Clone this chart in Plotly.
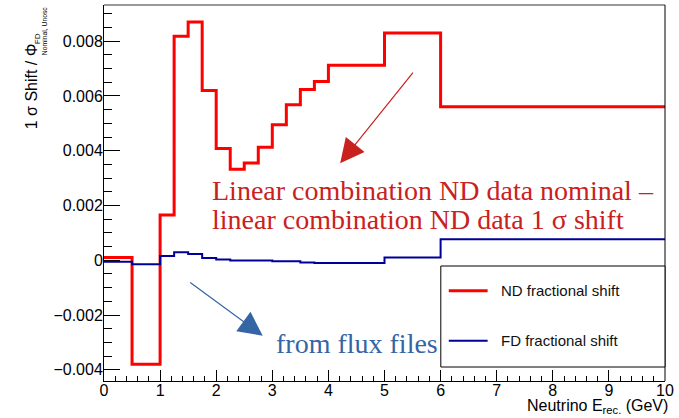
import plotly.graph_objects as go

# Reconstructed neutrino energy bin edges (GeV)
bin_edges = [0, 0.5, 1, 1.25, 1.5, 1.75, 2, 2.25, 2.5, 2.75, 3, 3.25, 3.5, 3.75, 4, 5, 6, 10]

# Fractional 1-sigma shifts per bin
nd_shift = [0.0001, -0.0038, 0.00165, 0.00818, 0.0087, 0.0062, 0.00408, 0.00332,
            0.00355, 0.00413, 0.00495, 0.00568, 0.00623, 0.00653, 0.00712, 0.0083, 0.0056]
fd_shift = [-0.00006, -0.00015, 0.00015, 0.00029, 0.00023, 0.00008, 0.00003, -0.00001,
            -0.00001, -0.00001, -0.00004, -0.00004, -0.00008, -0.0001, -0.0001, 0.0001, 0.00077]

series_names = ["ND fractional shift", "FD fractional shift"]
series_colors = ["#ff0000", "#000099"]
series_widths = [3, 2]

x_tick_vals = [0, 1, 2, 3, 4, 5, 6, 7, 8, 9, 10]
x_tick_text = ["0", "1", "2", "3", "4", "5", "6", "7", "8", "9", "10"]
y_tick_vals = [-0.004, -0.002, 0, 0.002, 0.004, 0.006, 0.008]
y_tick_text = ["\u22120.004", "\u22120.002", "0", "0.002", "0.004", "0.006", "0.008"]

# Canvas geometry (px)
W, H = 679, 418
ML, MR, MT, MB = 104, 12, 5, 37
PW, PH = W - ML - MR, H - MT - MB


def px(x):
    return (x - ML) / PW


def py(y):
    return (H - MB - y) / PH


fig = go.Figure()

for vals, name, color, width in zip([nd_shift, fd_shift], series_names, series_colors, series_widths):
    fig.add_trace(go.Scatter(
        x=bin_edges,
        y=list(vals) + [vals[-1]],
        mode="lines",
        line=dict(shape="hv", color=color, width=width),
        name=name,
        showlegend=False,
        hoverinfo="skip",
    ))

sans = "Liberation Sans, Arial, sans-serif"
serif = "Liberation Serif, Times New Roman, serif"

fig.update_layout(
    width=W, height=H,
    margin=dict(l=ML, r=MR, t=MT, b=MB, pad=0),
    paper_bgcolor="white", plot_bgcolor="white",
    font=dict(family=sans, size=16, color="black"),
    xaxis=dict(
        range=[0, 10], showgrid=False, zeroline=False,
        showline=True, linecolor="black", linewidth=1,
        tickmode="array", tickvals=x_tick_vals, ticktext=x_tick_text,
        ticks="inside", ticklen=11, tickwidth=1, tickcolor="black",
        ticklabelstandoff=-5,
        tickfont=dict(family=sans, size=16),
        minor=dict(dtick=0.2, tick0=0, ticks="inside", ticklen=5.5, tickcolor="black", tickwidth=1),
    ),
    yaxis=dict(
        range=[-0.00441, 0.00932], showgrid=False, zeroline=False,
        showline=True, linecolor="black", linewidth=1,
        tickmode="array", tickvals=y_tick_vals, ticktext=y_tick_text,
        ticks="inside", ticklen=16, tickwidth=1, tickcolor="black",
        ticklabelstandoff=-3,
        tickfont=dict(family=sans, size=16),
        minor=dict(dtick=0.0005, tick0=0, ticks="inside", ticklen=8, tickcolor="black", tickwidth=1),
    ),
)

shapes = [
    # top and right edges of the frame
    dict(type="line", xref="paper", yref="paper", x0=0, x1=1, y0=1, y1=1,
         line=dict(color="#777777", width=1.5)),
    dict(type="line", xref="paper", yref="paper", x0=1, x1=1, y0=0, y1=1,
         line=dict(color="black", width=1)),
    # legend box
    dict(type="rect", xref="paper", yref="paper", x0=px(442), x1=1, y0=py(367), y1=py(266),
         line=dict(color="black", width=1), fillcolor="white", layer="above"),
]
legend_rows = [290.7, 340.7]
for yrow, color, width in zip(legend_rows, series_colors, series_widths):
    shapes.append(dict(type="line", xref="paper", yref="paper",
                       x0=px(450), x1=px(489), y0=py(yrow), y1=py(yrow),
                       line=dict(color=color, width=width), layer="above"))
fig.update_layout(shapes=shapes)

annotations = []
for yrow, name in zip(legend_rows, series_names):
    annotations.append(dict(xref="paper", yref="paper", x=px(500), y=py(yrow),
                            xanchor="left", yanchor="middle", showarrow=False,
                            text=name, font=dict(family=sans, size=15, color="#111111")))

# axis titles
annotations.append(dict(xref="paper", yref="paper", x=px(672), y=py(407), xanchor="right", yanchor="middle",
                        showarrow=False, text="Neutrino E<sub>rec.</sub> (GeV)",
                        font=dict(family=sans, size=16)))
annotations.append(dict(xref="paper", yref="paper", x=px(31), y=py(131), xanchor="center", yanchor="bottom",
                        showarrow=False, textangle=-90, text="1 \u03c3 Shift / \u03a6",
                        font=dict(family=sans, size=16)))
annotations.append(dict(xref="paper", yref="paper", x=px(44.5), y=py(4), xanchor="center", yanchor="top",
                        showarrow=False, textangle=-90, text="Nominal, Unosc",
                        font=dict(family=sans, size=6.8)))
annotations.append(dict(xref="paper", yref="paper", x=px(37), y=py(39), xanchor="center", yanchor="middle",
                        showarrow=False, textangle=-90, text="FD",
                        font=dict(family=sans, size=8)))

# explanatory notes
red_note = "#c9211e"
blue_note = "#3465a4"
annotations.append(dict(xref="paper", yref="paper", x=px(210), y=py(190), xanchor="left", yanchor="middle",
                        showarrow=False, text="Linear combination ND data nominal \u2013",
                        font=dict(family=serif, size=28, color=red_note)))
annotations.append(dict(xref="paper", yref="paper", x=px(210), y=py(219.5), xanchor="left", yanchor="middle",
                        showarrow=False, text="linear combination ND data 1 \u03c3 shift",
                        font=dict(family=serif, size=28, color=red_note)))
annotations.append(dict(xref="paper", yref="paper", x=px(275), y=py(343.5), xanchor="left", yanchor="middle",
                        showarrow=False, text="from flux files",
                        font=dict(family=serif, size=28, color=blue_note)))

# arrows pointing from the curves to the notes
annotations.append(dict(xref="paper", yref="paper", x=px(341), y=py(163.3), text=" ",
                        showarrow=True, arrowhead=2, arrowsize=4, arrowwidth=1.2, arrowcolor=red_note,
                        ax=417.3 - 341, ay=68.3 - 163.3, standoff=0))
annotations.append(dict(xref="paper", yref="paper", x=px(263.3), y=py(335.7), text=" ",
                        showarrow=True, arrowhead=2, arrowsize=4, arrowwidth=1.2, arrowcolor=blue_note,
                        ax=187.3 - 263.3, ay=280 - 335.7, standoff=0))

fig.update_layout(annotations=annotations)

fig.write_html("out.html")
